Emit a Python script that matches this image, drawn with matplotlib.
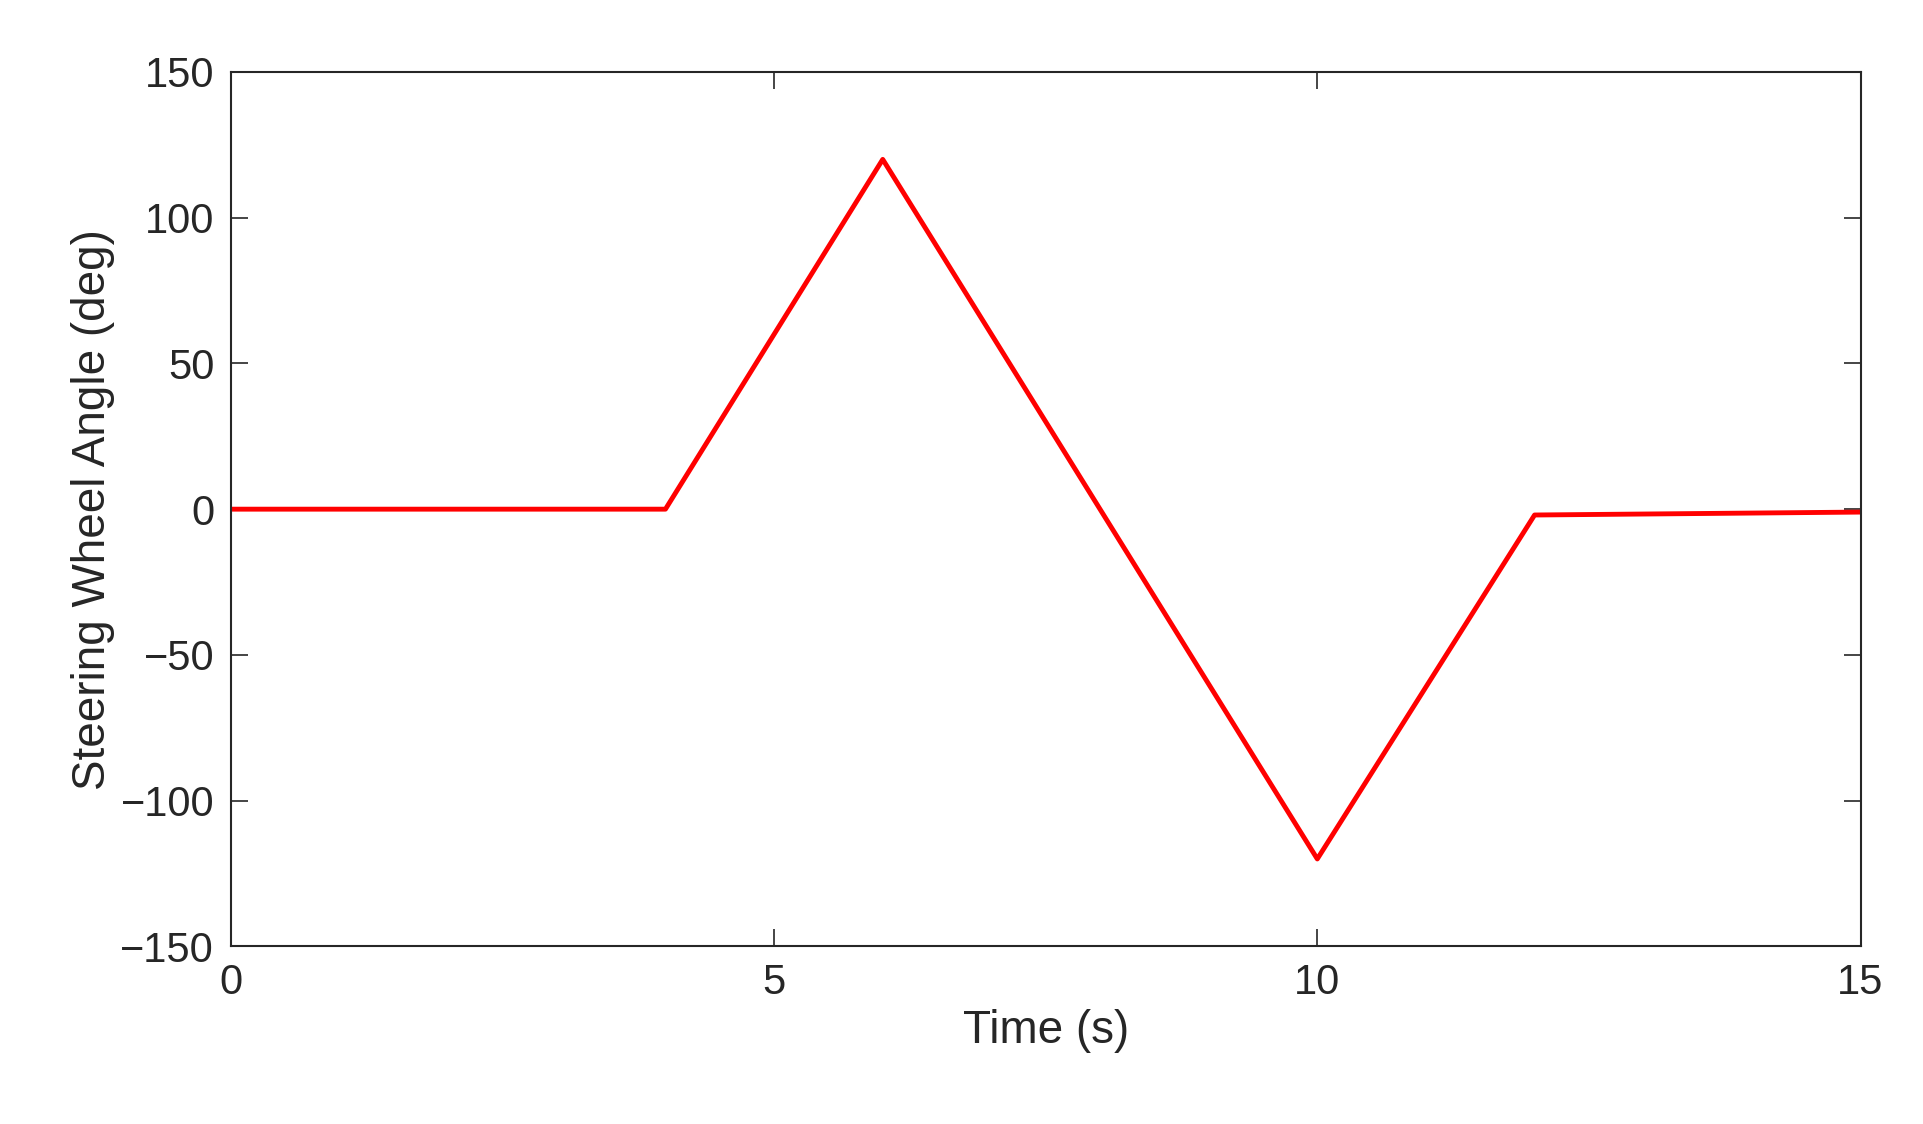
import matplotlib
matplotlib.use('Agg')
import matplotlib.pyplot as plt

time_s = [0, 4, 6, 10, 12, 15]
angle_deg = [0, 0, 120, -120, -2, -1]
xticks = [0, 5, 10, 15]
yticks = [-150, -100, -50, 0, 50, 100, 150]

plt.rcParams['font.family'] = ['Liberation Sans', 'DejaVu Sans']
fig = plt.figure(figsize=(19.24, 11.24), dpi=100)
ax = fig.add_axes([0.120, 0.158, 0.847, 0.778])
ax.plot(time_s, angle_deg, color='red', linewidth=3.5)
ax.set_xlim(0, 15)
ax.set_ylim(-150, 150)
ax.set_xticks(xticks)
ax.set_yticks(yticks)
ax.tick_params(direction='in', length=12, width=1.2, labelsize=30, colors='#262626',
               top=True, right=True, pad=12)
for s in ax.spines.values():
    s.set_linewidth(1.5)
    s.set_color('#262626')
ax.set_xlabel('Time (s)', fontsize=33, color='#262626')
ax.set_ylabel('Steering Wheel Angle (deg)', fontsize=33, color='#262626')
fig.savefig('out.png', dpi=100, facecolor='white')
